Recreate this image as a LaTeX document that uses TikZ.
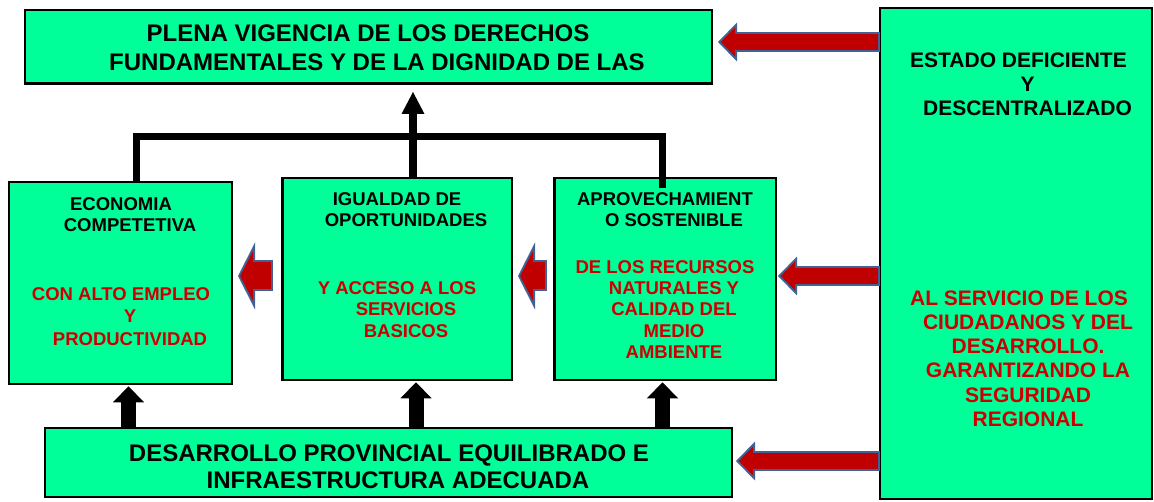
\documentclass[tikz,border=0pt]{standalone}
\usepackage{fontspec}
\setmainfont{Liberation Sans}
\usetikzlibrary{arrows.meta}
\definecolor{boxgreen}{RGB}{0,255,153}
\definecolor{textred}{RGB}{204,0,0}
\definecolor{arrowred}{RGB}{192,0,0}
\definecolor{arrowblue}{RGB}{65,98,150}
\newcommand{\indl}{\hspace*{18bp}}

\tikzset{
  box/.style={draw=black, line width=2.5bp, fill=boxgreen, inner sep=0pt, outer sep=0pt},
  bigtxt/.style={align=center, inner sep=0pt, font=\fontsize{24bp}{#1}\selectfont\bfseries},
  bigtxt/.default=29bp,
  midtxt/.style={align=center, inner sep=0pt, font=\fontsize{18.5bp}{#1}\selectfont\bfseries},
  midtxt/.default=21.3bp,
  sidetxt/.style={align=center, inner sep=0pt, font=\fontsize{21bp}{24.2bp}\selectfont\bfseries},
  bigred/.style 2 args={draw=arrowred, line width=16bp,
    shorten >=#1+2.8bp, shorten <=#2+2bp,
    -{Triangle[width=29bp,length=14.2bp,line width=0pt]},
    preaction={draw=arrowblue, line width=20bp, shorten >=#1, shorten <=#2,
      -{Triangle[width=39bp,length=19bp,line width=0pt]}}},
  smallred/.style 2 args={draw=arrowred, line width=27bp,
    shorten >=#1+2.2bp, shorten <=#2+2bp,
    -{Triangle[width=50bp,length=12.8bp,line width=0pt]},
    preaction={draw=arrowblue, line width=31bp, shorten >=#1, shorten <=#2,
      -{Triangle[width=67bp,length=17bp,line width=0pt]}}},
  blockup/.style={draw=black, line width=15bp, shorten >=2.5bp,
    -{Triangle[width=31bp,length=16bp,line width=0pt]}},
  upline/.style={draw=black, line width=8bp, shorten >=8.25bp,
    -{Triangle[width=23bp,length=22bp,line width=0pt]}},
  fork/.style={draw=black, line width=7bp}
}

\begin{document}
\begin{tikzpicture}[x=1bp, y=-1bp]
\useasboundingbox (0,0) rectangle (1154,502);

% boxes
\node[box, minimum width=686.5bp, minimum height=73.5bp] (top) at (368.5,47) {};
\node[box, minimum width=222.5bp, minimum height=201.5bp] (econ) at (120.5,283) {};
\node[box, minimum width=229.5bp, minimum height=201.5bp] (igual) at (397,279) {};
\node[box, minimum width=221.5bp, minimum height=201.5bp] (aprov) at (665,279) {};
\node[box, minimum width=686.5bp, minimum height=68.5bp] (base) at (388.5,462.5) {};
\node[box, line width=2bp, minimum width=272bp, minimum height=491bp] (estado) at (1016,253.5) {};

% levels and columns
\coordinate (lvltop) at (0,42);
\coordinate (lvlmid) at (0,276);
\coordinate (lvlbase) at (0,461);
\coordinate (colA) at (128.5,0);
\coordinate (colB) at (416,0);
\coordinate (colC) at (662.5,0);
\coordinate (colM) at (413,0);
\coordinate (forkL) at (136.5,136.5);
\coordinate (forkR) at (662,136.5);

% red arrows
\draw[bigred={6.25bp}{0bp}] (estado.west |- lvltop) -- (top.east |- lvltop);
\draw[bigred={2.25bp}{0bp}] (estado.west |- lvlmid) -- (aprov.east |- lvlmid);
\draw[bigred={4.25bp}{0bp}] (estado.west |- lvlbase) -- (base.east |- lvlbase);
\draw[smallred={6.25bp}{7.25bp}] (aprov.west |- lvlmid) -- (igual.east |- lvlmid);
\draw[smallred={6.25bp}{9.25bp}] (igual.west |- lvlmid) -- (econ.east |- lvlmid);

% black arrows
\draw[blockup] (colA |- base.north) -- (colA |- econ.south);
\draw[blockup] (colB |- base.north) -- (colB |- igual.south);
\draw[blockup] (colC |- base.north) -- (colC |- aprov.south);
\draw[fork] (forkL |- econ.north) -- (forkL) -- (forkR) -- ([yshift=-9.75bp]forkR |- aprov.north);
\draw[upline] (colM |- igual.north) -- (colM |- top.south);

% texts
\node[bigtxt] (ttop) at (368,47.5) {PLENA VIGENCIA DE LOS DERECHOS\\\indl FUNDAMENTALES Y DE LA DIGNIDAD DE LAS};
\node[midtxt=21bp] (tecon) at (121,214.5) {ECONOMIA\\\indl COMPETETIVA};
\node[midtxt=22.5bp, text=textred] (recon) at (121,316.5) {CON ALTO EMPLEO\\\indl Y\\\indl PRODUCTIVIDAD};
\node[midtxt=21bp] (tigual) at (397,209.5) {IGUALDAD DE\\\indl OPORTUNIDADES};
\node[midtxt=21.5bp, text=textred] (rigual) at (397,309.5) {Y ACCESO A LOS\\\indl SERVICIOS\\\indl BASICOS};
\node[midtxt=21bp] (taprov) at (665,209.5) {APROVECHAMIENT\\\indl O SOSTENIBLE};
\node[midtxt, text=textred] (raprov) at (665,309.5) {DE LOS RECURSOS\\\indl NATURALES Y\\\indl CALIDAD DEL\\\indl MEDIO\\\indl AMBIENTE};
\node[sidetxt] (testado) at (1018.5,84) {ESTADO DEFICIENTE\\\indl Y\\\indl DESCENTRALIZADO};
\node[sidetxt, text=textred] (restado) at (1019,358.5) {AL SERVICIO DE LOS\\\indl CIUDADANOS Y DEL\\\indl DESARROLLO.\\\indl GARANTIZANDO LA\\\indl SEGURIDAD\\\indl REGIONAL};
\node[bigtxt=27bp] (tbase) at (389,466.5) {DESARROLLO PROVINCIAL EQUILIBRADO E\\\indl INFRAESTRUCTURA ADECUADA};

\end{tikzpicture}
\end{document}
